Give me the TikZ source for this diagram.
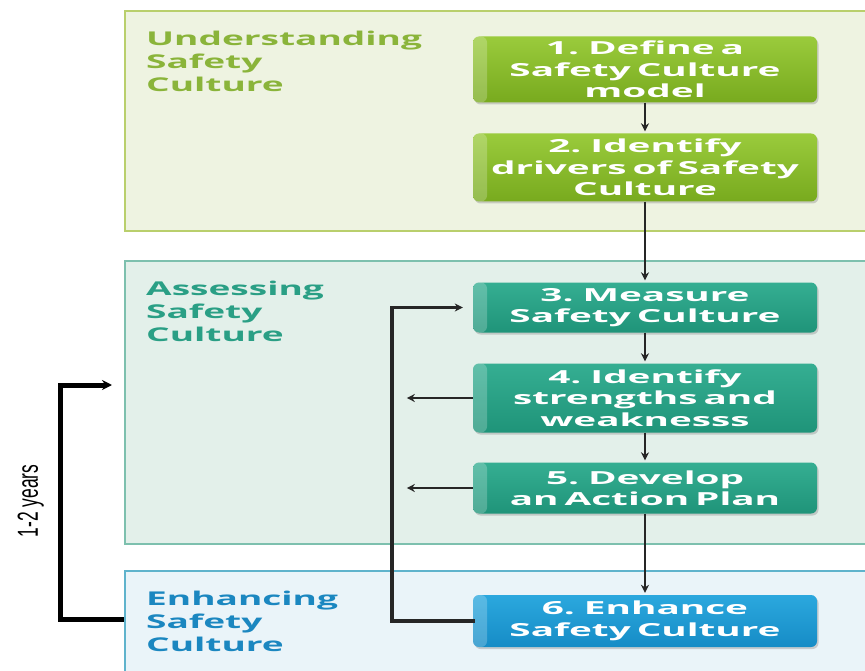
\documentclass[tikz,border=0pt]{standalone}
\usepackage{fontspec}
\usetikzlibrary{arrows.meta,shadows}
\newfontfamily\boxfont[FakeStretch=2.15]{Open Sans}
\newfontfamily\labfont[FakeStretch=1.95]{Open Sans}
\newfontfamily\yrfont[FakeStretch=0.6]{Liberation Sans}
\definecolor{gBoxTop}{HTML}{9ACB3C}
\definecolor{gBoxBot}{HTML}{78AA1E}
\definecolor{gPanel}{HTML}{EEF3E1}
\definecolor{gBorder}{HTML}{B9CF6C}
\definecolor{gText}{HTML}{8AB43A}
\definecolor{tBoxTop}{HTML}{35AE92}
\definecolor{tBoxBot}{HTML}{1F9479}
\definecolor{tPanel}{HTML}{E3F0EA}
\definecolor{tBorder}{HTML}{7DC0AE}
\definecolor{tText}{HTML}{2A9F85}
\definecolor{bBoxTop}{HTML}{2BA8DE}
\definecolor{bBoxBot}{HTML}{168CC6}
\definecolor{bPanel}{HTML}{EAF4F9}
\definecolor{bBorder}{HTML}{5FB3CC}
\definecolor{bText}{HTML}{1B87C0}
\tikzset{
  panel/.style={draw=#1, line width=1.6pt, anchor=north west, inner sep=0pt},
  stepbox/.style={rounded corners=6pt, minimum width=344pt, text width=342pt, align=center,
    text=white, font=\boxfont\bfseries\fontsize{18}{21.5}\selectfont, inner sep=0pt,
    drop shadow={opacity=0.35, shadow xshift=1.5pt, shadow yshift=-2pt},
    path picture={\fill[white,opacity=0.22] (path picture bounding box.south west) rectangle ([xshift=14pt]path picture bounding box.north west);}},
  gstep/.style={stepbox, top color=gBoxTop, bottom color=gBoxBot},
  tstep/.style={stepbox, top color=tBoxTop, bottom color=tBoxBot},
  bstep/.style={stepbox, top color=bBoxTop, bottom color=bBoxBot},
  plabel/.style={anchor=north west, align=left, inner sep=0pt, font=\labfont\bfseries\fontsize{19}{23}\selectfont},
  flow/.style={draw=black!85, line width=2.8pt, -{Stealth[length=8pt,width=8pt]}, shorten >=2pt},
  loop/.style={draw=black!85, line width=3.4pt, line cap=rect},
  side/.style={draw=black!85, line width=2.6pt, -{Stealth[length=8pt,width=8pt]}},
  outer/.style={draw=black, line width=5pt, -{Stealth[length=10pt,width=10pt]}}
}
\begin{document}
\begin{tikzpicture}[x=1pt,y=-1pt]
\clip (0,0) rectangle (865,671);
\fill[white] (0,0) rectangle (865,671);
% panels
\node[panel=gBorder, fill=gPanel, minimum width=760pt, minimum height=220pt] (p1) at (124,10) {};
\node[panel=tBorder, fill=tPanel, minimum width=760pt, minimum height=283pt] (p2) at (124,260) {};
\node[panel=bBorder, fill=bPanel, minimum width=760pt, minimum height=120pt] (p3) at (124,570) {};
% panel labels
\node[plabel, text=gText] (l1) at (146,31) {Understanding\\Safety\\Culture};
\node[plabel, text=tText] (l2) at (146,281) {Assessing\\Safety\\Culture};
\node[plabel, text=bText] (l3) at (146,591) {Enhancing\\Safety\\Culture};
% steps
\node[gstep, minimum height=66pt] (b1) at (645,69.5) {1. Define a\\Safety Culture\\model};
\node[gstep, minimum height=68pt] (b2) at (645,167.5) {2. Identify\\drivers of Safety\\Culture};
\node[tstep, minimum height=50pt] (b3) at (645,307.5) {3. Measure\\Safety Culture};
\node[tstep, minimum height=69pt] (b4) at (645,398) {4. Identify\\strengths and\\weaknesss};
\node[tstep, minimum height=51pt] (b5) at (645,488) {5. Develop\\an Action Plan};
\node[bstep, minimum height=52pt] (b6) at (645,621) {6. Enhance\\Safety Culture};
% flow arrows
\draw[flow] (b1) -- (b2);
\draw[flow] (b2) -- (b3);
\draw[flow] (b3) -- (b4);
\draw[flow] (b4) -- (b5);
\draw[flow] (b5) -- (b6);
% inner loop
\coordinate (il) at (392,460);
\draw[loop] (b6.west) -| (il);
\draw[loop, line cap=butt] (il) |- ([xshift=-14pt]b3.west);
\draw[side] ([xshift=-16pt]b3.west) -- ([xshift=-10pt]b3.west);
\draw[side] (b4.west) -- ++(-66,0);
\draw[side] (b5.west) -- ++(-66,0);
% outer loop
\coordinate (o1) at (124,619);
\coordinate (o2) at (112,385);
\coordinate (om) at (60,501);
\draw[outer] (o1) -| (om) |- (o2);
\node[rotate=90, anchor=south, inner sep=0pt, font=\yrfont\fontsize{29}{30}\selectfont] (yr) at (44,501) {1-2 years};
\end{tikzpicture}
\end{document}
